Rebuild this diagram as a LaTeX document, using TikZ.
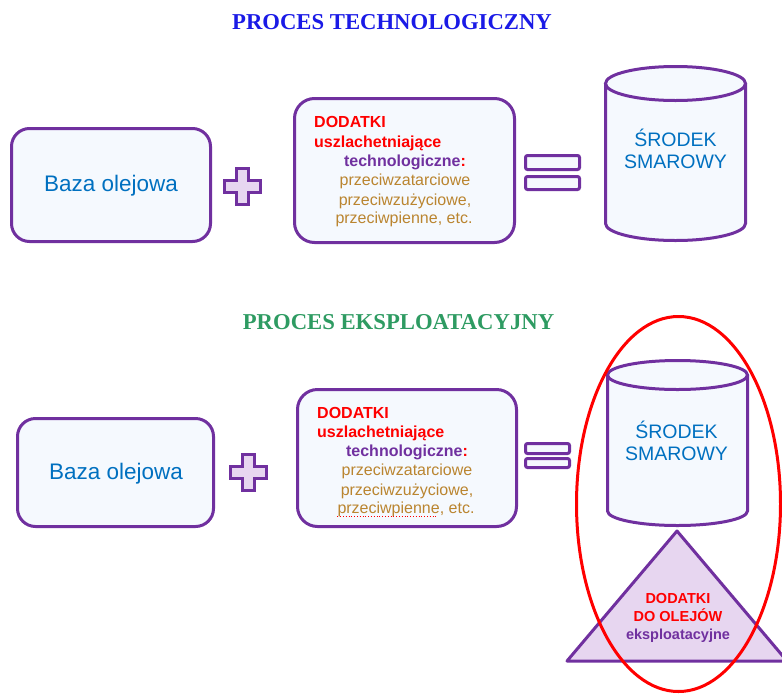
\documentclass[tikz,border=0pt]{standalone}
\usepackage{fontspec}
\setmainfont{Liberation Sans}
\newfontfamily\titlefont{Liberation Serif}
\definecolor{pur}{HTML}{70309F}
\definecolor{boxfill}{HTML}{F5F9FE}
\definecolor{lav}{HTML}{E7D6F0}
\definecolor{txtblue}{HTML}{0070C0}
\definecolor{brn}{HTML}{BA8530}
\definecolor{tblue}{HTML}{1A1AE6}
\definecolor{tgreen}{HTML}{2E9B62}
\definecolor{dred}{HTML}{FF0000}
\begin{document}
\begin{tikzpicture}[x=1pt,y=-1pt,
  box/.style={draw=pur, line width=3pt, fill=boxfill, rounded corners=18pt, inner sep=0pt},
  bar/.style={draw=pur, line width=3pt, fill=boxfill, rounded corners=2pt, inner sep=0pt},
  basetxt/.style={text=txtblue, font=\fontsize{22.5}{26}\selectfont},
  cyltxt/.style={text=txtblue, font=\fontsize{19.5}{22}\selectfont, align=center, inner sep=0pt},
  redtxt/.style={text=dred, font=\bfseries\fontsize{16}{19}\selectfont, inner sep=0pt},
  purtxt/.style={text=pur, font=\bfseries\fontsize{16}{19}\selectfont, inner sep=0pt},
  brntxt/.style={text=brn, font=\fontsize{16}{19}\selectfont, inner sep=0pt},
  title/.style={font=\titlefont\bfseries\fontsize{22.7}{26}\selectfont, inner sep=0pt},
  shapeline/.style={draw=pur, line width=3pt},
  plussign/.pic={
    \path[shapeline, fill=lav] (-6,-18) -- (6,-18) -- (6,-6) -- (18,-6) -- (18,6) -- (6,6) -- (6,18) -- (-6,18) -- (-6,6) -- (-18,6) -- (-18,-6) -- (-6,-6) -- cycle;
  }]
\useasboundingbox (0,0) rectangle (782,694);

% ---------- titles ----------
\node[title, text=tblue, anchor=base] (t1) at (392,29.5) {PROCES TECHNOLOGICZNY};
\node[title, text=tgreen, anchor=base] (t2) at (398.5,329.5) {PROCES EKSPLOATACYJNY};

% ---------- top row ----------
\node[box, minimum width=199, minimum height=113] (baza1) at (111,185) {};
\node[basetxt] (bazat1) at (111,186) {Baza olejowa};
\pic (plus1) at (242.5,186) {plussign};
\node[box, rounded corners=20pt, minimum width=220, minimum height=144] (dod1) at (404.5,170.5) {};
\node[redtxt, anchor=base west] (d1a) at (314,127) {DODATKI};
\node[redtxt, anchor=base west] (d1b) at (314,147) {uszlachetniające};
\node[purtxt, anchor=base] (d1c) at (405,166) {technologiczne\textcolor{dred}{:}};
\node[brntxt, anchor=base] (d1d) at (405,185.5) {przeciwzatarciowe};
\node[brntxt, anchor=base] (d1e) at (405,205) {przeciwzużyciowe,};
\node[brntxt, anchor=base] (d1f) at (404,223.5) {przeciwpienne, etc.};
\node[bar, minimum width=54, minimum height=14] (eq1a) at (552.5,162.5) {};
\node[bar, minimum width=54, minimum height=13] (eq1b) at (552.5,183) {};

% cylinder 1
\fill[boxfill] (605.5,83.5) -- (605.5,223.5) arc[start angle=180, end angle=360, x radius=70pt, y radius=17pt] -- (745.5,83.5) -- cycle;
\draw[shapeline] (605.5,83.5) -- (605.5,223.5) arc[start angle=180, end angle=360, x radius=70pt, y radius=17pt] -- (745.5,83.5);
\draw[shapeline, fill=boxfill] (675.5,83.5) ellipse [x radius=70pt, y radius=17pt];
\node[cyltxt] (sm1) at (675.5,149) {ŚRODEK\\SMAROWY};

% ---------- bottom row ----------
\node[box, minimum width=196, minimum height=108] (baza2) at (115.5,472.5) {};
\node[basetxt] (bazat2) at (116,473.5) {Baza olejowa};
\pic (plus2) at (248.5,472.5) {plussign};
\node[box, rounded corners=20pt, minimum width=219, minimum height=137] (dod2) at (407,458) {};
\node[redtxt, anchor=base west] (d2a) at (317,418) {DODATKI};
\node[redtxt, anchor=base west] (d2b) at (317,437.5) {uszlachetniające};
\node[purtxt, anchor=base] (d2c) at (407,456.5) {technologiczne\textcolor{dred}{:}};
\node[brntxt, anchor=base] (d2d) at (407,475.5) {przeciwzatarciowe};
\node[brntxt, anchor=base] (d2e) at (407,495) {przeciwzużyciowe,};
\node[brntxt, anchor=base] (d2f) at (406,513.5) {przeciwpienne, etc.};
\draw[dred, line width=0.8pt, dotted] (d2f.base west) ++(0,3) coordinate (ul1) -- ++(100,0) coordinate (ul2);
\node[bar, minimum width=44, minimum height=10] (eq2a) at (547.5,448.5) {};
\node[bar, minimum width=44, minimum height=9] (eq2b) at (547.5,463) {};

% cylinder 2
\fill[boxfill] (607.5,375) -- (607.5,511) arc[start angle=180, end angle=360, x radius=70pt, y radius=14.5pt] -- (747.5,375) -- cycle;
\draw[shapeline] (607.5,375) -- (607.5,511) arc[start angle=180, end angle=360, x radius=70pt, y radius=14.5pt] -- (747.5,375);
\draw[shapeline, fill=boxfill] (677.5,375) ellipse [x radius=70pt, y radius=14.5pt];
\node[cyltxt] (sm2) at (676.5,441) {ŚRODEK\\SMAROWY};

% triangle
\draw[shapeline, fill=lav, line join=round] (677,531) -- (787,661) -- (567,661) -- cycle;
\node[align=center, inner sep=0pt, font=\bfseries\fontsize{14.5}{18}\selectfont] (tri) at (678,617.5)
  {\textcolor{dred}{DODATKI}\\\textcolor{dred}{DO OLEJÓW}\\\textcolor{pur}{eksploatacyjne}};

% red ellipse
\draw[dred, line width=3pt] (678.5,504) ellipse [x radius=102pt, y radius=187.5pt];
\end{tikzpicture}
\end{document}
